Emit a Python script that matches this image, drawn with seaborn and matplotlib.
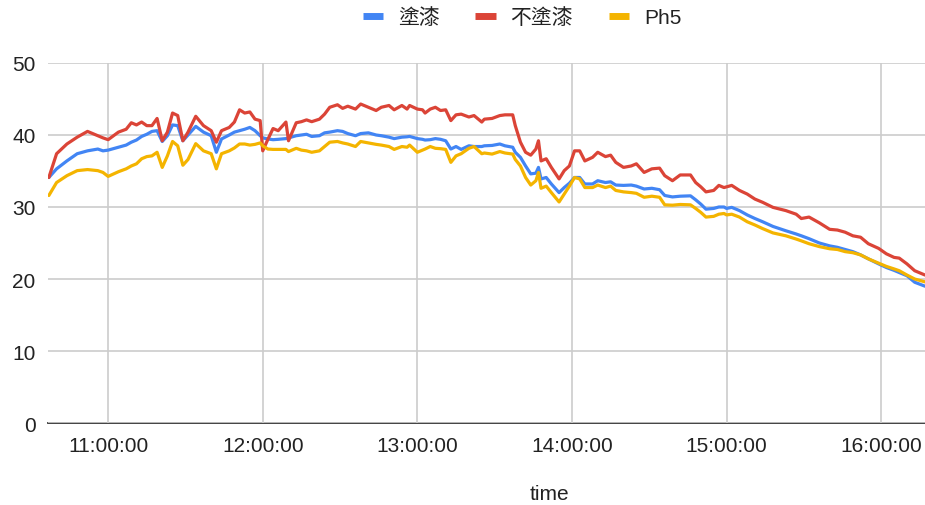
import matplotlib
matplotlib.use("Agg")
import matplotlib.pyplot as plt
import matplotlib.dates as mdates
from matplotlib.lines import Line2D
import pandas as pd
import seaborn as sns

# Sample times (HH:MM) of the temperature readings
times = [
    "10:37", "10:40", "10:44", "10:48", "10:52", "10:56", "10:58", "11:00", "11:04", "11:07",
    "11:09", "11:11", "11:13", "11:15", "11:17", "11:19", "11:21", "11:23", "11:25", "11:27",
    "11:29", "11:31", "11:34", "11:37", "11:40", "11:42", "11:44", "11:47", "11:49", "11:51",
    "11:53", "11:55", "11:57", "11:59", "12:00", "12:02", "12:04", "12:06", "12:09", "12:10",
    "12:13", "12:15", "12:17", "12:19", "12:22", "12:24", "12:26", "12:29", "12:31", "12:33",
    "12:36", "12:38", "12:41", "12:44", "12:46", "12:49", "12:51", "12:54", "12:56", "12:57",
    "13:00", "13:02", "13:03", "13:05", "13:07", "13:09", "13:11", "13:13", "13:15", "13:17",
    "13:20", "13:22", "13:25", "13:26", "13:29", "13:32", "13:34", "13:37", "13:38", "13:40",
    "13:42", "13:44", "13:46", "13:47", "13:48", "13:50", "13:52", "13:55", "13:57", "13:59",
    "14:01", "14:03", "14:05", "14:08", "14:10", "14:13", "14:15", "14:17", "14:20", "14:23",
    "14:25", "14:28", "14:31", "14:34", "14:36", "14:39", "14:42", "14:46", "14:48", "14:50",
    "14:52", "14:55", "14:57", "14:59", "15:00", "15:02", "15:05", "15:08", "15:11", "15:14",
    "15:18", "15:23", "15:27", "15:29", "15:32", "15:36", "15:40", "15:43", "15:46", "15:49",
    "15:52", "15:55", "15:59", "16:02", "16:05", "16:07", "16:10", "16:13", "16:17",
]

coated = [
    34.1, 35.3, 36.4, 37.4, 37.8, 38.05, 37.8, 37.9, 38.3, 38.6,
    39.0, 39.3, 39.8, 40.1, 40.5, 40.6, 39.1, 39.9, 41.4, 41.3,
    39.2, 40.0, 41.2, 40.4, 39.9, 37.6, 39.45, 40.0, 40.4, 40.6,
    40.8, 41.05, 40.6, 39.9, 39.6, 39.45, 39.35, 39.4, 39.5, 39.6,
    39.9, 40.0, 40.1, 39.8, 39.9, 40.3, 40.4, 40.6, 40.5, 40.2,
    39.9, 40.2, 40.3, 40.0, 39.9, 39.7, 39.5, 39.7, 39.75, 39.8,
    39.5, 39.4, 39.3, 39.35, 39.5, 39.4, 39.2, 38.05, 38.4, 38.0,
    38.5, 38.4, 38.4, 38.5, 38.55, 38.75, 38.5, 38.3, 37.6, 36.9,
    35.7, 34.6, 34.7, 35.5, 33.9, 34.1, 33.2, 32.0, 32.7, 33.3,
    34.1, 34.1, 33.2, 33.2, 33.65, 33.4, 33.5, 33.05, 33.0, 33.05,
    32.9, 32.5, 32.6, 32.4, 31.6, 31.4, 31.5, 31.55, 31.0, 30.4,
    29.7, 29.8, 30.0, 30.0, 29.8, 29.95, 29.5, 28.9, 28.4, 27.95,
    27.3, 26.7, 26.25, 26.0, 25.6, 25.0, 24.6, 24.4, 24.1, 23.8,
    23.35, 22.8, 22.1, 21.6, 21.2, 20.9, 20.45, 19.55, 19.0,
]

uncoated = [
    34.1, 37.4, 38.75, 39.7, 40.5, 39.9, 39.6, 39.35, 40.4, 40.8,
    41.7, 41.4, 41.8, 41.3, 41.3, 42.3, 39.2, 40.4, 43.05, 42.7,
    39.2, 40.4, 42.6, 41.3, 40.6, 39.0, 40.6, 41.05, 41.8, 43.5,
    43.05, 43.2, 42.2, 42.0, 37.8, 39.4, 40.9, 40.6, 41.8, 39.2,
    41.7, 41.85, 42.1, 41.85, 42.2, 42.9, 43.85, 44.2, 43.7, 44.0,
    43.6, 44.3, 43.85, 43.4, 43.85, 44.1, 43.5, 44.1, 43.6, 44.1,
    43.6, 43.5, 43.05, 43.6, 43.85, 43.4, 43.5, 42.0, 42.8, 42.9,
    42.5, 42.7, 41.8, 42.2, 42.3, 42.7, 42.8, 42.8, 41.3, 39.0,
    37.6, 37.2, 38.05, 39.2, 36.4, 36.7, 35.5, 33.9, 35.05, 35.7,
    37.8, 37.8, 36.4, 36.9, 37.6, 37.0, 37.2, 36.2, 35.5, 35.7,
    36.0, 34.8, 35.3, 35.4, 34.35, 33.65, 34.45, 34.45, 33.4, 32.8,
    32.1, 32.3, 33.0, 32.7, 32.8, 33.0, 32.3, 31.8, 31.1, 30.65,
    29.95, 29.5, 29.0, 28.4, 28.6, 27.8, 26.9, 26.8, 26.5, 26.0,
    25.8, 24.9, 24.25, 23.5, 23.0, 22.9, 22.1, 21.15, 20.55,
]

ph5 = [
    31.6, 33.4, 34.35, 35.05, 35.2, 35.05, 34.8, 34.25, 34.9, 35.3,
    35.7, 36.0, 36.7, 37.0, 37.1, 37.6, 35.5, 37.1, 39.1, 38.5,
    35.8, 36.6, 38.8, 37.8, 37.4, 35.3, 37.4, 37.8, 38.2, 38.75,
    38.75, 38.6, 38.7, 38.9, 38.5, 38.05, 38.0, 38.0, 38.0, 37.7,
    38.15, 37.9, 37.8, 37.6, 37.8, 38.4, 39.0, 39.1, 38.9, 38.75,
    38.4, 39.1, 38.9, 38.7, 38.6, 38.4, 38.0, 38.4, 38.3, 38.6,
    37.6, 37.9, 38.05, 38.4, 38.15, 38.1, 38.0, 36.2, 37.1, 37.4,
    38.15, 38.4, 37.4, 37.5, 37.35, 37.7, 37.5, 37.35, 36.6, 35.7,
    34.1, 33.05, 33.65, 34.8, 32.6, 32.9, 32.0, 30.7, 31.8, 32.9,
    34.1, 33.9, 32.7, 32.7, 33.05, 32.7, 32.9, 32.3, 32.1, 32.0,
    31.9, 31.35, 31.5, 31.35, 30.3, 30.25, 30.35, 30.3, 29.8, 29.25,
    28.6, 28.7, 29.0, 29.1, 28.9, 29.0, 28.6, 27.95, 27.5, 27.0,
    26.4, 26.0, 25.55, 25.3, 24.9, 24.5, 24.2, 24.1, 23.8, 23.65,
    23.35, 22.8, 22.2, 21.75, 21.4, 21.15, 20.55, 20.0, 19.6,
]

series_names = ["塗漆", "不塗漆", "Ph5"]
series_colors = ["#4285F4", "#DB4437", "#F4B400"]
y_ticks = [0, 10, 20, 30, 40, 50]
x_label = "time"

assert len(times) == len(coated) == len(uncoated) == len(ph5)

sns.set_theme(style="white")
plt.rcParams["font.family"] = ["Liberation Sans", "Noto Sans CJK TC", "DejaVu Sans"]

day = "2024-06-01 "
stamps = pd.to_datetime([day + t for t in times])
df = pd.DataFrame({
    "time": list(stamps) * 3,
    "value": coated + uncoated + ph5,
    "series": [name for name in series_names for _ in times],
})

W, H = 925, 506
fig = plt.figure(figsize=(W / 100, H / 100), dpi=100)
left, right, top, bottom = 48, 925, 64, 424
ax = fig.add_axes([left / W, 1 - bottom / H, (right - left) / W, (bottom - top) / H])

sns.lineplot(
    data=df, x="time", y="value", hue="series", hue_order=series_names,
    palette=series_colors, linewidth=2.3, estimator=None, legend=False, ax=ax,
)

ax.set_xlim(pd.Timestamp(day + "10:36:40"), pd.Timestamp(day + "16:17:00"))
ax.set_ylim(0, 50)
ax.set_yticks(y_ticks)
ax.xaxis.set_major_locator(mdates.HourLocator())
ax.xaxis.set_major_formatter(mdates.DateFormatter("%H:%M:%S"))

ax.grid(True, color="#cccccc", linewidth=1.2)
ax.set_axisbelow(True)
for side in ["top", "right", "left"]:
    ax.spines[side].set_visible(False)
ax.spines["bottom"].set_color("#333333")
ax.spines["bottom"].set_linewidth(1.3)
ax.spines["bottom"].set_zorder(0.5)

ax.tick_params(axis="both", length=0, labelsize=15, labelcolor="#222222")
ax.tick_params(axis="y", pad=9)
ax.tick_params(axis="x", pad=9)

ax.set_ylabel("")
ax.set_xlabel(x_label, fontsize=15, color="#222222", va="center")
ax.xaxis.set_label_coords((549 - left) / (right - left), (bottom - 495) / (bottom - top))

handles = [Line2D([0], [0], color=c, linewidth=5, solid_capstyle="butt") for c in series_colors]
fig.legend(
    handles, series_names, loc="center", bbox_to_anchor=(522 / W, 1 - 18 / H),
    ncol=3, frameon=False, fontsize=15, handlelength=1.0, handletextpad=0.7,
    columnspacing=1.7, labelcolor="#222222",
)

fig.savefig("out.png", dpi=100)
